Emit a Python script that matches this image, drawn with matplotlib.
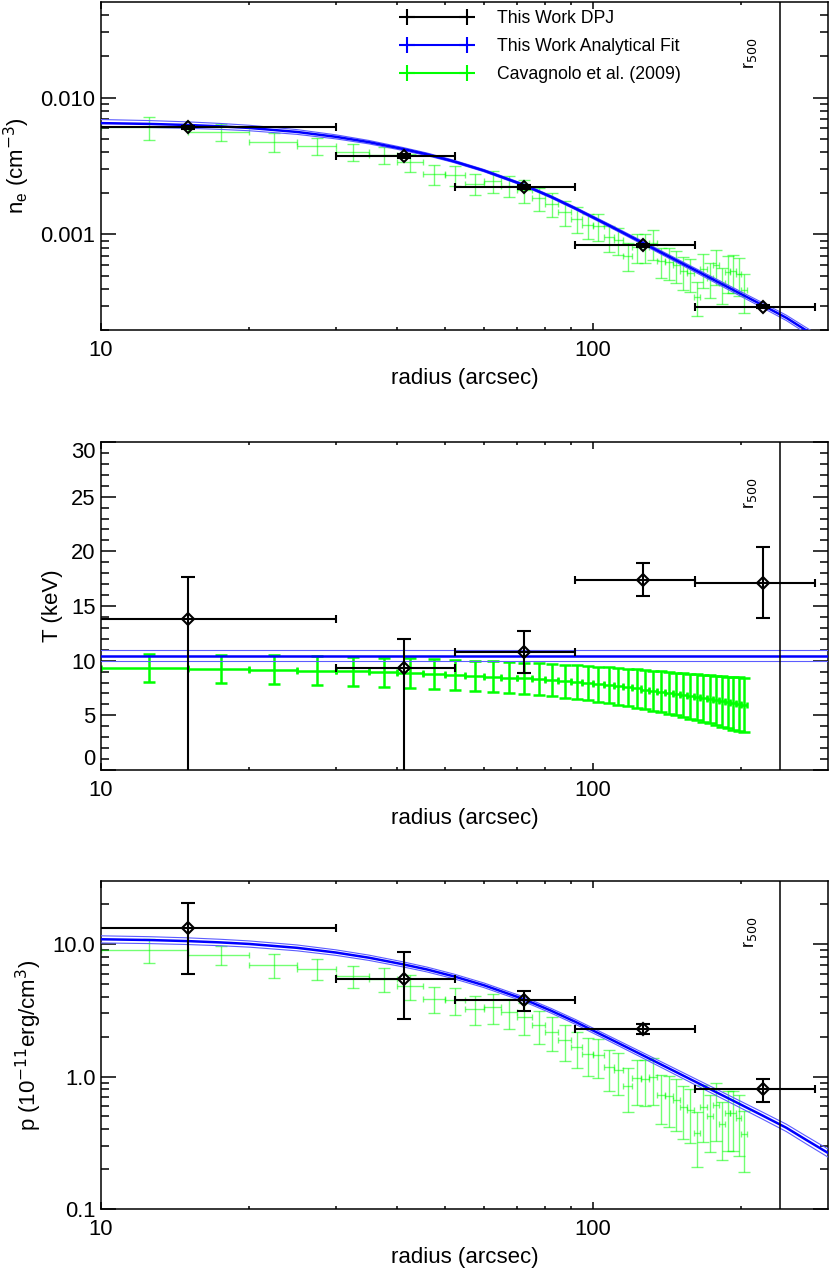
import numpy as np
import matplotlib
matplotlib.use('Agg')
import matplotlib.pyplot as plt
from matplotlib.ticker import FixedLocator, FixedFormatter, NullFormatter
from matplotlib.lines import Line2D

plt.rcParams['font.family'] = ['Liberation Sans', 'DejaVu Sans']

# ---------------- data ----------------
r500 = 240.0

# This Work DPJ (bins)
dpj_r = [15.0, 41.25, 72.25, 126.5, 221.5]
dpj_rlo = [0.0, 30.0, 52.5, 92.0, 161.0]
dpj_rhi = [30.0, 52.5, 92.0, 161.0, 282.0]
dpj_ne = [0.00607, 0.00373, 0.00221, 0.000831, 0.000296]
dpj_ne_lo = [0.00590, 0.00362, 0.00214, 0.000806, 0.000287]
dpj_ne_hi = [0.00624, 0.00384, 0.00228, 0.000856, 0.000305]
dpj_T = [13.81, 9.34, 10.83, 17.37, 17.15]
dpj_T_lo = [-1.0, -1.0, 8.86, 15.88, 13.93]
dpj_T_hi = [17.67, 11.99, 12.72, 18.94, 20.40]
dpj_p = [13.2, 5.46, 3.80, 2.30, 0.807]
dpj_p_lo = [5.98, 2.70, 3.12, 2.11, 0.648]
dpj_p_hi = [20.3, 8.65, 4.46, 2.51, 0.96]

# This Work analytical fit
fit_r = [10, 12.5, 15, 17.5, 20, 25, 30, 35, 41, 46, 52, 60, 72, 82, 92, 108,
         126, 142, 161, 190, 221, 247, 270, 300]
fit_ne = [0.00650, 0.006414, 0.006298, 0.006155, 0.005993, 0.005604, 0.005162,
          0.004721, 0.004212, 0.003842, 0.003420, 0.002922, 0.002306, 0.001884,
          0.001546, 0.001155, 0.000867, 0.000693, 0.000548, 0.000402, 0.000303,
          0.000245, 0.000200, 0.000158]
fit_ne_band = [0.062, 0.058, 0.054, 0.050, 0.046, 0.040, 0.034, 0.029, 0.025,
               0.022, 0.020, 0.019, 0.019, 0.020, 0.021, 0.024, 0.027, 0.030,
               0.033, 0.038, 0.042, 0.045, 0.048, 0.052]
fit_T = 10.45
fit_T_lo = 9.98
fit_T_hi = 10.98
fit_p = [10.88, 10.74, 10.54, 10.30, 10.03, 9.38, 8.64, 7.90, 7.05, 6.43,
         5.72, 4.89, 3.86, 3.15, 2.59, 1.93, 1.45, 1.16, 0.917, 0.673, 0.507,
         0.410, 0.335, 0.265]
fit_p_band = [0.062, 0.060, 0.058, 0.056, 0.054, 0.051, 0.048, 0.046, 0.044,
              0.042, 0.041, 0.040, 0.040, 0.041, 0.042, 0.044, 0.047, 0.050,
              0.053, 0.057, 0.061, 0.064, 0.067, 0.070]

# Cavagnolo et al. (2009)
cav_r = [12.5, 17.5, 22.5, 27.5, 32.5, 37.5, 42.5, 47.5, 52.5, 57.5, 62.5,
         67.5, 72.5, 77.5, 82.5, 87.5, 92.5, 97.5, 102.5, 107.5, 112.5, 117.5,
         122.5, 127.5, 132.5, 137.5, 142.5, 147.5, 152.5, 157.5, 162.5, 167.5,
         172.5, 177.5, 182.5, 187.5, 192.5, 197.5, 202.5]
cav_halfwidth = 2.5
cav_ne = [0.00605, 0.00561, 0.00474, 0.00445, 0.00400, 0.00381, 0.00338,
          0.00275, 0.00270, 0.00235, 0.00245, 0.00227, 0.00210, 0.00183,
          0.00166, 0.00145, 0.00130, 0.00117, 0.00115, 0.00095, 0.00091,
          0.00070, 0.00081, 0.00081, 0.00086, 0.00064, 0.00063, 0.00060,
          0.00054, 0.00052, 0.00035, 0.00056, 0.00048, 0.00060, 0.00044,
          0.00053, 0.00054, 0.00051, 0.00039]
cav_ne_frac = [0.19, 0.14, 0.16, 0.14, 0.14, 0.14, 0.15, 0.16, 0.17, 0.17,
               0.18, 0.18, 0.19, 0.19, 0.20, 0.20, 0.21, 0.21, 0.22, 0.22,
               0.23, 0.23, 0.24, 0.24, 0.25, 0.25, 0.26, 0.26, 0.27, 0.27,
               0.28, 0.28, 0.29, 0.29, 0.30, 0.30, 0.31, 0.31, 0.32]
cav_T = [9.34, 9.25, 9.17, 9.10, 9.02, 8.94, 8.86, 8.78, 8.70, 8.62, 8.54,
         8.46, 8.38, 8.30, 8.21, 8.12, 8.03, 7.94, 7.85, 7.76, 7.66, 7.56,
         7.46, 7.36, 7.26, 7.16, 7.06, 6.96, 6.86, 6.76, 6.66, 6.56, 6.46,
         6.37, 6.28, 6.19, 6.10, 6.02, 5.95]
cav_T_err = [1.30, 1.30, 1.31, 1.31, 1.32, 1.33, 1.34, 1.35, 1.36, 1.38,
             1.40, 1.42, 1.44, 1.46, 1.48, 1.51, 1.54, 1.57, 1.60, 1.63,
             1.67, 1.71, 1.75, 1.79, 1.83, 1.87, 1.91, 1.95, 2.00, 2.05,
             2.10, 2.15, 2.20, 2.25, 2.30, 2.35, 2.40, 2.45, 2.50]
cav_p = [9.06, 8.31, 6.96, 6.49, 5.78, 5.46, 4.80, 3.87, 3.76, 3.25, 3.35,
         3.07, 2.82, 2.44, 2.18, 1.88, 1.67, 1.49, 1.45, 1.18, 1.12, 0.85,
         0.97, 0.96, 1.00, 0.73, 0.71, 0.67, 0.59, 0.56, 0.375, 0.59, 0.50,
         0.61, 0.44, 0.53, 0.53, 0.49, 0.37]
cav_p_frac = [0.21, 0.17, 0.20, 0.18, 0.19, 0.20, 0.21, 0.22, 0.23, 0.24,
              0.25, 0.26, 0.27, 0.28, 0.29, 0.30, 0.31, 0.32, 0.33, 0.34,
              0.35, 0.36, 0.37, 0.38, 0.39, 0.40, 0.41, 0.42, 0.43, 0.44,
              0.45, 0.46, 0.46, 0.47, 0.47, 0.48, 0.48, 0.49, 0.49]

# ---------------- styling ----------------
GREEN = '#00ff00'
BLUE = '#0000ff'
LBLUE = '#5c5cff'
TICKFS = 15.8
LABFS = 16

fig = plt.figure(figsize=(8.3, 12.69), dpi=100)
L, W, H = 0.1217, 0.8759, 0.2585
ax1 = fig.add_axes([L, 0.7400, W, H])
ax2 = fig.add_axes([L, 0.3932, W, H])
ax3 = fig.add_axes([L, 0.0473, W, H])

dr = np.array(dpj_r)
dxlo = dr - np.maximum(np.array(dpj_rlo), 1.0)
dxhi = np.array(dpj_rhi) - dr
cr = np.array(cav_r)


def draw_cav(ax, y, ylo, yhi, lw, alpha):
    ax.errorbar(cr, y, xerr=cav_halfwidth, fmt='none', ecolor=GREEN,
                elinewidth=lw, capsize=2.0, capthick=lw, alpha=alpha, zorder=2)
    ax.errorbar(cr, y, yerr=[np.array(y) - np.array(ylo), np.array(yhi) - np.array(y)],
                fmt='none', ecolor=GREEN, elinewidth=lw, capsize=4.5,
                capthick=lw, alpha=alpha, zorder=2)


def draw_fit(ax, y, band):
    y = np.array(y)
    b = np.array(band)
    ax.plot(fit_r, y * (1 - b), color=LBLUE, lw=0.8, zorder=3)
    ax.plot(fit_r, y * (1 + b), color=LBLUE, lw=0.8, zorder=3)
    ax.plot(fit_r, y, color=BLUE, lw=1.8, zorder=3)


def draw_dpj(ax, y, ylo, yhi):
    y = np.array(y)
    ax.errorbar(dr, y, xerr=[dxlo, dxhi], fmt='none', ecolor='black',
                elinewidth=1.5, capsize=2.6, capthick=1.5, zorder=5)
    ax.errorbar(dr, y, yerr=[y - np.array(ylo), np.array(yhi) - y], fmt='none',
                ecolor='black', elinewidth=1.5, capsize=5.0, capthick=1.5, zorder=5)
    ax.plot(dr, y, 'D', ms=6.5, mfc='none', mec='black', mew=1.5, zorder=6)


def style_axis(ax):
    ax.set_xscale('log')
    ax.set_xlim(10, 300)
    ax.xaxis.set_major_locator(FixedLocator([10, 100]))
    ax.xaxis.set_major_formatter(FixedFormatter(['10', '100']))
    ax.xaxis.set_minor_locator(FixedLocator([20, 30, 40, 50, 60, 70, 80, 90, 200]))
    ax.xaxis.set_minor_formatter(NullFormatter())
    ax.tick_params(axis='both', which='both', direction='in', top=True,
                   right=True, width=1.1, labelsize=TICKFS, colors='black')
    ax.tick_params(axis='x', which='major', length=4.8, pad=7)
    ax.tick_params(axis='x', which='minor', length=2.4)
    ax.tick_params(axis='y', which='major', length=10.5, pad=4)
    ax.tick_params(axis='y', which='minor', length=5.5)
    for s in ax.spines.values():
        s.set_linewidth(1.1)
    ax.axvline(r500, color='black', lw=1.1, zorder=4)
    ax.text(0.893, 0.843, r'r$_{500}$', transform=ax.transAxes, rotation=90,
            ha='center', va='center', fontsize=13)
    ax.set_xlabel('radius (arcsec)', fontsize=LABFS, labelpad=5)


# ---- panel 1: density ----
cne = np.array(cav_ne)
draw_cav(ax1, cne, cne * (1 - np.array(cav_ne_frac)), cne * (1 + np.array(cav_ne_frac)), 1.0, 0.55)
draw_fit(ax1, fit_ne, fit_ne_band)
draw_dpj(ax1, dpj_ne, dpj_ne_lo, dpj_ne_hi)
style_axis(ax1)
ax1.set_yscale('log')
ax1.set_ylim(0.0002, 0.05)
ax1.yaxis.set_major_locator(FixedLocator([0.001, 0.01]))
ax1.yaxis.set_major_formatter(FixedFormatter(['0.001', '0.010']))
ax1.yaxis.set_minor_locator(FixedLocator([0.0002, 0.0003, 0.0004, 0.0005, 0.0006, 0.0007,
                                          0.0008, 0.0009, 0.002, 0.003, 0.004, 0.005,
                                          0.006, 0.007, 0.008, 0.009, 0.02, 0.03, 0.04]))
ax1.yaxis.set_minor_formatter(NullFormatter())
ax1.set_ylabel(r'n$_\mathregular{e}$ (cm$^{-3}$)', fontsize=LABFS, labelpad=6)

handles = [Line2D([], [], color='black', lw=1.5, marker='+', ms=12, mew=1.5),
           Line2D([], [], color=BLUE, lw=1.5, marker='+', ms=12, mew=1.5),
           Line2D([], [], color=GREEN, lw=1.5, marker='+', ms=12, mew=1.5)]
ax1.legend(handles, ['This Work DPJ', 'This Work Analytical Fit', 'Cavagnolo et al. (2009)'],
           loc='upper left', bbox_to_anchor=(0.414, 0.975), frameon=False, fontsize=12.7,
           numpoints=2, handlelength=4.0, handletextpad=1.36, labelspacing=0.62,
           borderpad=0, borderaxespad=0)

# ---- panel 2: temperature ----
cT = np.array(cav_T)
cTe = np.array(cav_T_err)
draw_cav(ax2, cT, cT - cTe, cT + cTe, 1.8, 1.0)
ax2.axhline(fit_T_lo, color=LBLUE, lw=0.8, zorder=3)
ax2.axhline(fit_T_hi, color=LBLUE, lw=0.8, zorder=3)
ax2.axhline(fit_T, color=BLUE, lw=1.8, zorder=3)
draw_dpj(ax2, dpj_T, dpj_T_lo, dpj_T_hi)
style_axis(ax2)
ax2.set_ylim(0, 30)
ax2.yaxis.set_major_locator(FixedLocator([0, 5, 10, 15, 20, 25, 30]))
ax2.yaxis.set_major_formatter(FixedFormatter(['0', '5', '10', '15', '20', '25', '30']))
ax2.yaxis.set_minor_locator(FixedLocator(list(range(1, 30))))
ax2.yaxis.set_minor_formatter(NullFormatter())
ax2.set_ylabel('T (keV)', fontsize=LABFS, labelpad=6)
_ticks = ax2.yaxis.get_major_ticks()
_ticks[0].label1.set_va('bottom')
_ticks[-1].label1.set_va('top')

# ---- panel 3: pressure ----
cp = np.array(cav_p)
cpf = np.array(cav_p_frac)
draw_cav(ax3, cp, cp * (1 - cpf), cp * (1 + cpf), 1.0, 0.55)
draw_fit(ax3, fit_p, fit_p_band)
draw_dpj(ax3, dpj_p, dpj_p_lo, dpj_p_hi)
style_axis(ax3)
ax3.set_yscale('log')
ax3.set_ylim(0.1, 30)
ax3.yaxis.set_major_locator(FixedLocator([0.1, 1.0, 10.0]))
ax3.yaxis.set_major_formatter(FixedFormatter(['0.1', '1.0', '10.0']))
ax3.yaxis.set_minor_locator(FixedLocator([0.2, 0.3, 0.4, 0.5, 0.6, 0.7, 0.8, 0.9,
                                          2, 3, 4, 5, 6, 7, 8, 9, 20]))
ax3.yaxis.set_minor_formatter(NullFormatter())
ax3.set_ylabel(r'p (10$^{-11}$erg/cm$^3$)', fontsize=LABFS, labelpad=6)

fig.savefig('out.png', dpi=100)
